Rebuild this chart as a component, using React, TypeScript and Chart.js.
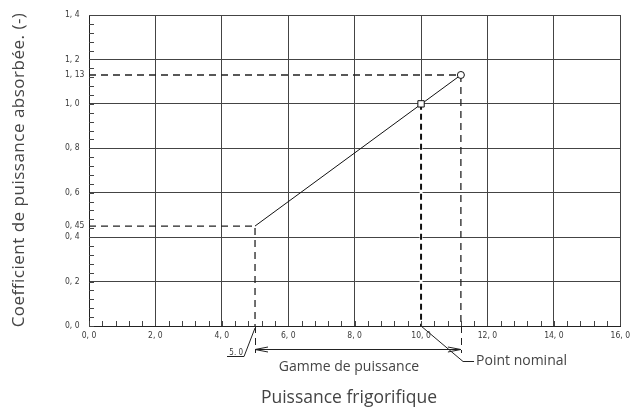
import React, { useEffect, useRef } from 'react';
import { Chart, registerables } from 'chart.js';

Chart.register(...registerables);

// Data
const lineX = [5.0, 11.2];
const lineY = [0.45, 1.13];
const nominalX = [10.0];
const nominalY = [1.0];
const yMajorTicks = [0, 0.2, 0.4, 0.6, 0.8, 1.0, 1.2, 1.4];
const yExtraTicks = [0.45, 1.13];
const xMajorTicks = [0, 2, 4, 6, 8, 10, 12, 14, 16];
const yMinorStep = 0.04;
const xMinorStep = 0.4;

const yTitle = 'Coefficient de puissance absorbée. (-)';
const xTitle = 'Puissance frigorifique';
const rangeLabel = 'Gamme de puissance';
const nominalLabel = 'Point nominal';
const startLabel = '5. 0';

const TEXT = '#3a3a3a';
const TITLE = '#444';
const GRID = '#444';
const TICKFONT = '"DejaVu Sans Condensed", "DejaVu Sans"';

const fmt = (v: number) => {
  const isExtra = yExtraTicks.some((e) => Math.abs(e - v) < 1e-6);
  const s = isExtra ? v.toFixed(2) : v.toFixed(1);
  return s.replace('.', ', ');
};

const annotPlugin = {
  id: 'annot',
  afterDraw(chart: any) {
    const ctx = chart.ctx;
    const xs = chart.scales.x;
    const ys = chart.scales.y;
    const area = chart.chartArea;
    const py0 = ys.getPixelForValue(0);
    const px5 = xs.getPixelForValue(lineX[0]);
    const pxEnd = xs.getPixelForValue(lineX[1]);
    const pxNom = xs.getPixelForValue(nominalX[0]);

    ctx.save();
    // minor ticks
    ctx.strokeStyle = GRID;
    ctx.lineWidth = 1;
    ctx.beginPath();
    for (let i = 0; i * yMinorStep <= 1.4 + 1e-6; i++) {
      const y = Math.round(ys.getPixelForValue(i * yMinorStep)) + 0.5;
      ctx.moveTo(area.left, y);
      ctx.lineTo(area.left + 5, y);
    }
    for (let i = 0; i * xMinorStep <= 16 + 1e-6; i++) {
      const x = Math.round(xs.getPixelForValue(i * xMinorStep)) + 0.5;
      ctx.moveTo(x, area.bottom);
      ctx.lineTo(x, area.bottom - 5);
    }
    ctx.stroke();

    // dashed extensions below axis
    ctx.strokeStyle = '#222';
    ctx.setLineDash([7, 5]);
    ctx.beginPath();
    ctx.moveTo(Math.round(px5) + 0.5, py0);
    ctx.lineTo(Math.round(px5) + 0.5, py0 + 27);
    ctx.moveTo(Math.round(pxEnd) + 0.5, py0);
    ctx.lineTo(Math.round(pxEnd) + 0.5, py0 + 27);
    ctx.stroke();
    ctx.setLineDash([]);

    // dimension line with arrows
    const dy = Math.round(py0 + 23) + 0.5;
    ctx.strokeStyle = '#222';
    ctx.beginPath();
    ctx.moveTo(px5, dy);
    ctx.lineTo(pxEnd, dy);
    ctx.moveTo(px5 + 13, dy - 2.5);
    ctx.lineTo(px5, dy);
    ctx.lineTo(px5 + 13, dy + 2.5);
    ctx.moveTo(pxEnd - 13, dy - 2.5);
    ctx.lineTo(pxEnd, dy);
    ctx.lineTo(pxEnd - 13, dy + 2.5);
    ctx.stroke();

    // "5. 0" label with leader
    ctx.fillStyle = TEXT;
    ctx.font = '8px ' + TICKFONT;
    ctx.textAlign = 'right';
    ctx.textBaseline = 'alphabetic';
    ctx.fillText(startLabel, px5 - 12, py0 + 29);
    ctx.beginPath();
    ctx.moveTo(px5 - 28, py0 + 30.5);
    ctx.lineTo(px5 - 11, py0 + 30.5);
    ctx.lineTo(px5, py0 + 2);
    ctx.stroke();

    // Point nominal leader
    ctx.beginPath();
    ctx.moveTo(pxNom, py0);
    ctx.lineTo(pxNom + 42, py0 + 35.5);
    ctx.lineTo(pxNom + 53, py0 + 35.5);
    ctx.stroke();

    ctx.fillStyle = TITLE;
    ctx.font = '14px "Open Sans"';
    ctx.textAlign = 'left';
    ctx.textBaseline = 'alphabetic';
    ctx.fillText(nominalLabel, pxNom + 55, py0 + 39);

    ctx.textAlign = 'center';
    ctx.font = '14px "Open Sans"';
    ctx.fillText(rangeLabel, 349, py0 + 45);

    // axis titles
    ctx.font = '17.5px "Open Sans"';
    ctx.fillText(xTitle, 349, py0 + 77);

    ctx.font = '17px "Open Sans"';
    (ctx as any).letterSpacing = '0.5px';
    ctx.textBaseline = 'middle';
    ctx.translate(19, 170);
    ctx.rotate(-Math.PI / 2);
    ctx.fillText(yTitle, 0, 0);
    (ctx as any).letterSpacing = '0px';
    ctx.restore();
  },
};

export default function App() {
  const ref = useRef<HTMLCanvasElement | null>(null);
  useEffect(() => {
    document.body.style.margin = '0';
    const canvas = ref.current;
    if (!canvas) return;
    const isExtra = (v: number) => yExtraTicks.some((e) => Math.abs(e - v) < 1e-6);
    const chart = new Chart(canvas, {
      type: 'scatter',
      data: {
        datasets: [
          {
            label: 'main',
            data: lineX.map((x, i) => ({ x, y: lineY[i] })),
            showLine: true,
            borderColor: '#111',
            borderWidth: 1,
            backgroundColor: '#fff',
            pointRadius: [0, 3.5],
            pointStyle: 'circle',
            pointBorderColor: '#111',
            pointBorderWidth: 1,
            order: 0,
          },
          {
            label: 'nominal',
            data: nominalX.map((x, i) => ({ x, y: nominalY[i] })),
            pointStyle: 'rect',
            pointRadius: 4.5,
            backgroundColor: '#fff',
            borderColor: '#111',
            borderWidth: 1,
            order: -1,
          },
          {
            label: 'low',
            data: [
              { x: 0, y: lineY[0] },
              { x: lineX[0], y: lineY[0] },
              { x: lineX[0], y: 0 },
            ],
            showLine: true,
            borderColor: '#222',
            borderWidth: 1.3,
            borderDash: [7, 5],
            pointRadius: 0,
            order: 1,
          },
          {
            label: 'high',
            data: [
              { x: 0, y: lineY[1] },
              { x: lineX[1], y: lineY[1] },
              { x: lineX[1], y: 0 },
            ],
            showLine: true,
            borderColor: '#222',
            borderWidth: 1.3,
            borderDash: [7, 5],
            pointRadius: 0,
            order: 1,
          },
          {
            label: 'nomdrop',
            data: [
              { x: nominalX[0], y: nominalY[0] },
              { x: nominalX[0], y: 0 },
            ],
            showLine: true,
            borderColor: '#111',
            borderWidth: 2,
            borderDash: [6, 4],
            pointRadius: 0,
            order: 1,
          },
          {
            label: 'nomdropMask',
            data: [
              { x: nominalX[0], y: nominalY[0] },
              { x: nominalX[0], y: 0 },
            ],
            showLine: true,
            borderColor: '#fff',
            borderWidth: 3,
            pointRadius: 0,
            order: 2,
          },
        ],
      },
      options: {
        animation: false,
        responsive: true,
        maintainAspectRatio: false,
        layout: { padding: { left: 65, right: 12, top: 15, bottom: 0 } },
        plugins: { legend: { display: false }, tooltip: { enabled: false } },
        scales: {
          x: {
            type: 'linear',
            min: 0,
            max: 16,
            afterBuildTicks: (axis: any) => {
              axis.ticks = xMajorTicks.map((v) => ({ value: v }));
            },
            afterFit: (axis: any) => {
              axis.height = 81;
            },
            grid: { color: GRID, lineWidth: 1, drawTicks: false },
            border: { color: '#222', width: 1 },
            ticks: {
              autoSkip: false,
              maxRotation: 0,
              padding: 5,
              color: TEXT,
              font: { family: TICKFONT, size: 8.5 },
              callback: (v: any) => Number(v).toFixed(1).replace('.', ', '),
            },
          },
          y: {
            type: 'linear',
            min: 0,
            max: 1.4,
            afterBuildTicks: (axis: any) => {
              axis.ticks = [...yMajorTicks, ...yExtraTicks]
                .sort((a, b) => a - b)
                .map((v) => ({ value: v }));
            },
            afterFit: (axis: any) => {
              axis.width = 24;
            },
            grid: {
              color: (c: any) => (c.tick && isExtra(c.tick.value) ? 'rgba(0,0,0,0)' : GRID),
              lineWidth: 1,
              drawTicks: false,
            },
            border: { color: '#222', width: 1 },
            ticks: {
              autoSkip: false,
              crossAlign: 'far',
              color: TEXT,
              font: { family: TICKFONT, size: 8.5 },
              callback: (v: any) => fmt(Number(v)),
            },
          },
        },
      },
      plugins: [annotPlugin],
    } as any);
    return () => chart.destroy();
  }, []);
  return (
    <div style={{ position: 'fixed', left: 0, top: 0, width: 635, height: 407, background: '#fff' }}>
      <canvas ref={ref} />
    </div>
  );
}
